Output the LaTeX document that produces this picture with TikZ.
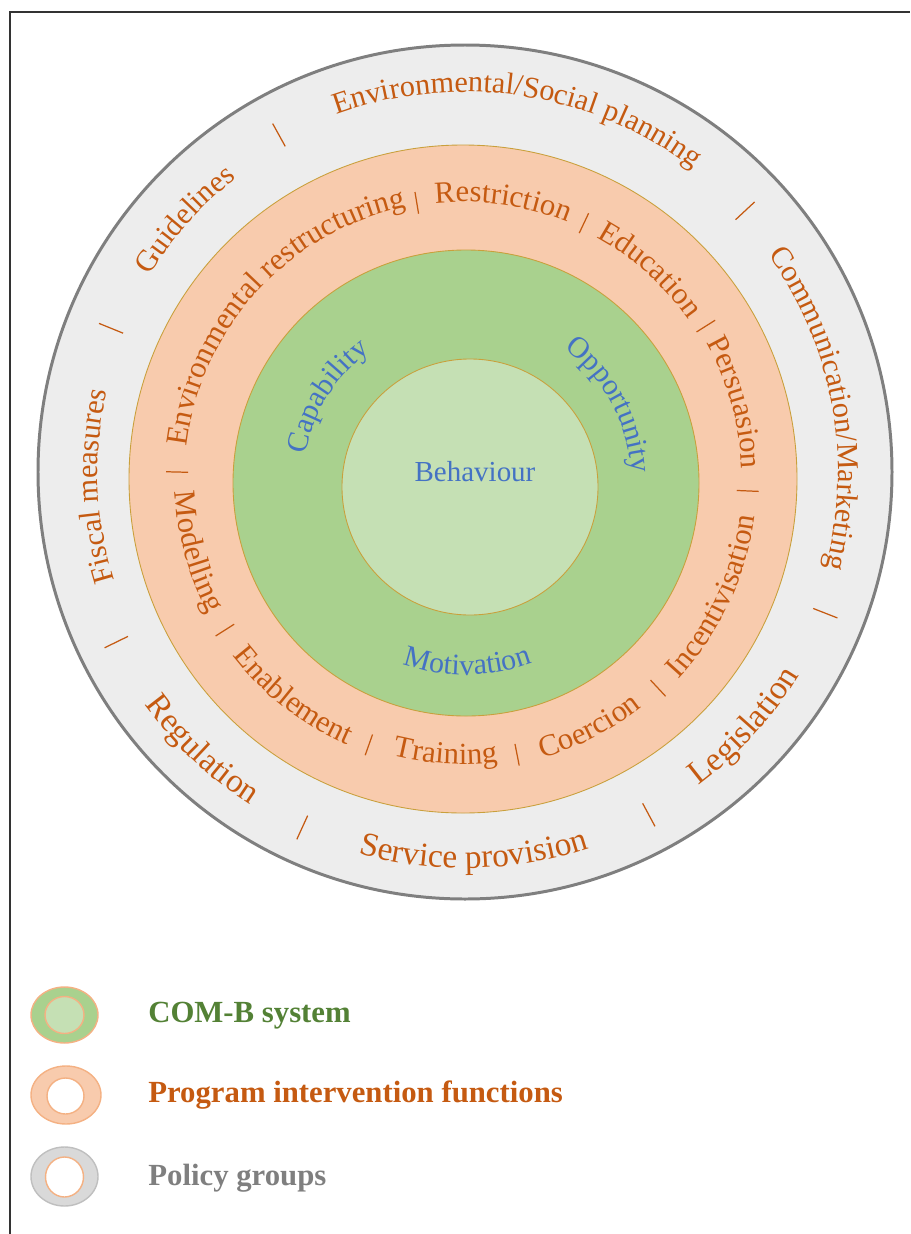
\documentclass[tikz,border=0pt]{standalone}
\usepackage{fontspec}
\setmainfont{Liberation Serif}
\usepackage{tikz}
\usetikzlibrary{decorations.text}

\definecolor{policy}{HTML}{EDEDED}
\definecolor{policyline}{HTML}{7F7F7F}
\definecolor{ipf}{HTML}{F8CBAD}
\definecolor{ipfline}{HTML}{C9A03C}
\definecolor{comb}{HTML}{A9D18E}
\definecolor{beh}{HTML}{C5E0B4}
\definecolor{rust}{HTML}{C55A11}
\definecolor{steel}{HTML}{4472C4}
\definecolor{leaf}{HTML}{538135}
\definecolor{ash}{HTML}{7F7F7F}
\definecolor{legline}{HTML}{F4B183}
\definecolor{legfill}{HTML}{D9D9D9}
\definecolor{legedge}{HTML}{BFBFBF}

\newcommand{\poltop}{\fontsize{17.2}{20}\selectfont}
\newcommand{\polfont}{\fontsize{19}{22}\selectfont}
\newcommand{\ipffont}{\fontsize{17.5}{20}\selectfont}
\newcommand{\comfont}{\fontsize{17}{20}\selectfont}

% text on an arc, read clockwise (#2 = middle angle, #3 = baseline radius)
\newcommand{\cwtext}[6]{\path[decorate,decoration={text along path,text align=center,
    text color=#5,text={|#4|#6}}]
  ([shift={(#2+75:#3)}]#1) arc[start angle=#2+75,end angle=#2-75,radius=#3];}
% text on an arc, read counterclockwise
\newcommand{\ccwtext}[6]{\path[decorate,decoration={text along path,text align=center,
    text color=#5,text={|#4|#6}}]
  ([shift={(#2-75:#3)}]#1) arc[start angle=#2-75,end angle=#2+75,radius=#3];}

\begin{document}
\begin{tikzpicture}[x=0.02cm,y=0.02cm,
    ringpol/.style={fill=policy,draw=policyline,line width=1.7pt},
    ringipf/.style={fill=ipf,draw=ipfline,line width=0.5pt},
    ringcom/.style={fill=comb,draw=ipfline,line width=0.5pt},
    ringbeh/.style={fill=beh,draw=ipfline,line width=0.5pt},
    sep/.style={draw=rust,line width=0.7pt},
    legtext/.style={anchor=base west,inner xsep=0pt,font=\bfseries\fontsize{17.5}{20}\selectfont}]

  \useasboundingbox (0,0) rectangle (910,-1234);
  \draw[line width=0.7pt,black!80] (10,-1234) -- (10,-12) -- (910,-12);

  \coordinate (O) at (465,-472);
  \coordinate (R) at (463,-479);
  \coordinate (G) at (466,-483);
  \coordinate (B) at (470,-487);

  \draw[ringpol] (O) circle[radius=427];
  \draw[ringipf] (R) circle[radius=334];
  \draw[ringcom] (G) circle[radius=233];
  \draw[ringbeh] (B) circle[radius=128];

  \cwtext{O}{81.4}{380}{\poltop}{rust}{Environmental/Social planning}
  \cwtext{O}{138}{372}{\poltop}{rust}{Guidelines}
  \cwtext{O}{182.2}{367}{\poltop}{rust}{Fiscal measures}
  \cwtext{O}{10.4}{373}{\poltop}{rust}{Communication/Marketing}
  \ccwtext{O}{-42.3}{391}{\polfont}{rust}{Legislation}
  \ccwtext{O}{-88.7}{396}{\polfont}{rust}{Service provision}
  \ccwtext{O}{226.6}{396}{\polfont}{rust}{Regulation}

  \foreach \a/\r in {118.9/385,43/383,157.9/382,206/388,245.4/391,-61.8/389,-21.4/387}
    \draw[sep] (O) ++(\a:\r) ++(\a:-13) -- ++(\a:26);

  \cwtext{R}{137.5}{278}{\ipffont}{rust}{Environmental restructuring}
  \cwtext{R}{81.8}{277}{\ipffont}{rust}{Restriction}
  \cwtext{R}{48.2}{276}{\ipffont}{rust}{Education}
  \cwtext{R}{15.7}{279}{\ipffont}{rust}{Persuasion}
  \ccwtext{R}{-25.1}{294}{\ipffont}{rust}{Incentivisation}
  \ccwtext{R}{-63}{290}{\ipffont}{rust}{Coercion}
  \ccwtext{R}{-93.6}{285}{\ipffont}{rust}{Training}
  \ccwtext{R}{232}{290}{\ipffont}{rust}{Enablement}
  \ccwtext{R}{195.3}{288}{\ipffont}{rust}{Modelling}

  \foreach \a/\r in {99.5/280,64.7/283,32.2/287,-2.4/285,178.6/286,212.4/282,250.5/282,-78.9/281,-47/286}
    \draw[sep] (R) ++(\a:\r) ++(\a:-11) -- ++(\a:22);

  \cwtext{G}{148}{163}{\comfont}{steel}{Capability}
  \cwtext{G}{28.5}{166}{\comfont}{steel}{Opportunity}
  \ccwtext{G}{-89.5}{192}{\comfont}{steel}{Motivation}

  \node[font=\fontsize{16.5}{19}\selectfont,text=steel] (behaviour) at (475,-472) {Behaviour};

  \draw[fill=comb,draw=legline,line width=0.8pt] (64.5,-1015) ellipse[x radius=33.5,y radius=28];
  \draw[fill=beh,draw=legline,line width=0.8pt] (64.5,-1015) ellipse[x radius=19.5,y radius=18.5];
  \draw[fill=ipf,draw=legline,line width=0.8pt] (66,-1095) ellipse[x radius=35,y radius=29];
  \draw[fill=white,draw=legline,line width=0.8pt] (65.5,-1096) ellipse[x radius=18.5,y radius=18];
  \draw[fill=legfill,draw=legedge,line width=0.8pt] (64.5,-1176.5) ellipse[x radius=33.5,y radius=29.5];
  \draw[fill=white,draw=legline,line width=0.8pt] (64.5,-1177) ellipse[x radius=19,y radius=20];

  \node[legtext,text=leaf] (comb) at (148,-1022) {COM-B system};
  \node[legtext,text=rust] (ipf) at (148,-1102) {Program intervention functions};
  \node[legtext,text=ash] (pol) at (148,-1185) {Policy groups};

\end{tikzpicture}
\end{document}
